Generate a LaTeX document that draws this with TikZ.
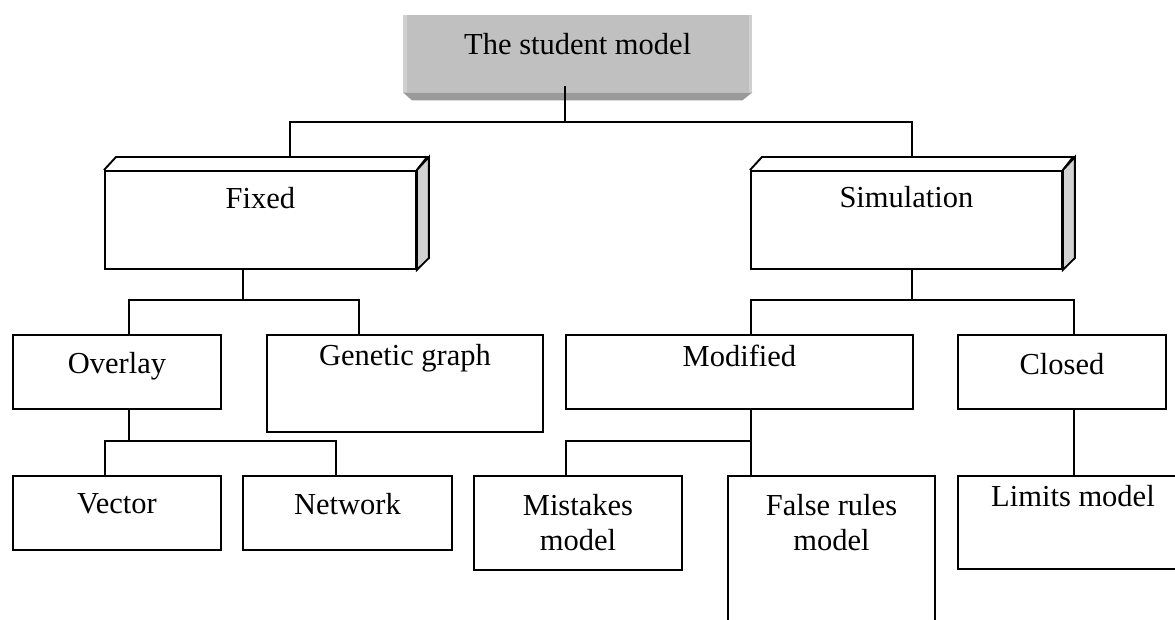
\documentclass[tikz,border=0pt]{standalone}
\usepackage{fontspec}
\setmainfont{Liberation Serif}
\usetikzlibrary{positioning}
\definecolor{stone}{HTML}{C0C0C0}
\definecolor{stonedark}{HTML}{9A9A9A}
\definecolor{stonelight}{HTML}{D0D0D0}
\definecolor{sideface}{HTML}{D2D2D2}

\begin{document}
\begin{tikzpicture}[x=1pt,y=1pt]
\tikzstyle{every node}+=[inner sep=0pt]
\tikzstyle{box}=[draw=black, line width=1.9pt, anchor=north west]
\tikzstyle{boxtext}=[font=\fontsize{30.5}{35}\selectfont, align=center, anchor=north]
\tikzstyle{link}=[black, line width=1.9pt]
\useasboundingbox (0,0) rectangle (1175,-619);
\clip (0,0) rectangle (1175,-619);
\node [fill=stone, anchor=north west, minimum width=349pt, minimum height=77pt] (student) at (403,-15) {};
\fill [stonelight] (student.north west) rectangle ([xshift=4]student.south west);
\fill [stonelight] ([xshift=-3]student.north east) rectangle (student.south east);
\fill [stonedark] (student.south west) -- (student.south east) -- ++(-10,-8) -- ([xshift=9,yshift=-8]student.south west) -- cycle;
\node [boxtext, below=18pt of student.north] (studenttext) {The student model};
\node [box, minimum width=311pt, minimum height=98pt] (fixed) at (104,-170) {};
\draw [link] (fixed.north west) -- ++(12,13) -- ++(311,0) -- (fixed.north east);
\draw [link, fill=sideface] (fixed.north east) -- ++(12,13) -- ++(0,-101) -- (fixed.south east) -- cycle;
\node [boxtext, below=17pt of fixed.north] (fixedtext) {Fixed};
\node [box, minimum width=311pt, minimum height=98pt] (simulation) at (750,-170) {};
\draw [link] (simulation.north west) -- ++(12,13) -- ++(311,0) -- (simulation.north east);
\draw [link, fill=sideface] (simulation.north east) -- ++(12,13) -- ++(0,-101) -- (simulation.south east) -- cycle;
\node [boxtext, below=16pt of simulation.north] (simulationtext) {Simulation};
\node [box, minimum width=208pt, minimum height=74pt] (overlay) at (12,-334) {};
\node [boxtext, below=18pt of overlay.north] (overlaytext) {Overlay};
\node [box, minimum width=276pt, minimum height=97pt] (genetic) at (266,-334) {};
\node [boxtext, below=10pt of genetic.north] (genetictext) {Genetic graph};
\node [box, minimum width=347pt, minimum height=74pt] (modified) at (565,-334) {};
\node [boxtext, below=11pt of modified.north] (modifiedtext) {Modified};
\node [box, minimum width=208pt, minimum height=74pt] (closed) at (957,-334) {};
\node [boxtext, below=19pt of closed.north] (closedtext) {Closed};
\node [box, minimum width=208pt, minimum height=74pt] (vector) at (12,-475) {};
\node [boxtext, below=18pt of vector.north] (vectortext) {Vector};
\node [box, minimum width=209pt, minimum height=74pt] (network) at (242,-475) {};
\node [boxtext, below=18pt of network.north] (networktext) {Network};
\node [box, minimum width=208pt, minimum height=94pt] (mistakes) at (473,-475) {};
\node [boxtext, below=19pt of mistakes.north] (mistakestext) {Mistakes\\model};
\node [box, minimum width=207pt, minimum height=185pt] (falserules) at (727,-475) {};
\node [boxtext, below=19pt of falserules.north] (falserulestext) {False rules\\model};
\node [box, minimum width=230pt, minimum height=93pt] (limits) at (957,-475) {};
\node [boxtext, below=10pt of limits.north] (limitstext) {Limits model};
\draw [link] ([xshift=-12.5,yshift=6]student.south) -- ++(0,-36) coordinate (bus1);
\draw [link] ([xshift=29.5,yshift=13]fixed.north) |- (bus1) -| ([xshift=5.5,yshift=13]simulation.north);
\draw [link] ([xshift=-17.5]fixed.south) -- ++(0,-30) coordinate (bus2);
\draw [link] ([xshift=12]overlay.north) |- (bus2) -| ([xshift=-46]genetic.north);
\draw [link] ([xshift=5.5]simulation.south) -- ++(0,-30) coordinate (bus3);
\draw [link] ([xshift=11.5]modified.north) |- (bus3) -| ([xshift=12]closed.north);
\draw [link] ([xshift=12]overlay.south) -- ++(0,-31) coordinate (bus4);
\draw [link] ([xshift=-12]vector.north) |- (bus4) -| ([xshift=-11.5]network.north);
\draw [link] ([xshift=11.5]modified.south) -- ([xshift=-80.5]falserules.north);
\draw [link] ([xshift=-12]mistakes.north) |- ([xshift=11.5,yshift=-31]modified.south);
\draw [link] ([xshift=12]closed.south) -- ([xshift=12]closed.south |- limits.north);
\end{tikzpicture}
\end{document}
